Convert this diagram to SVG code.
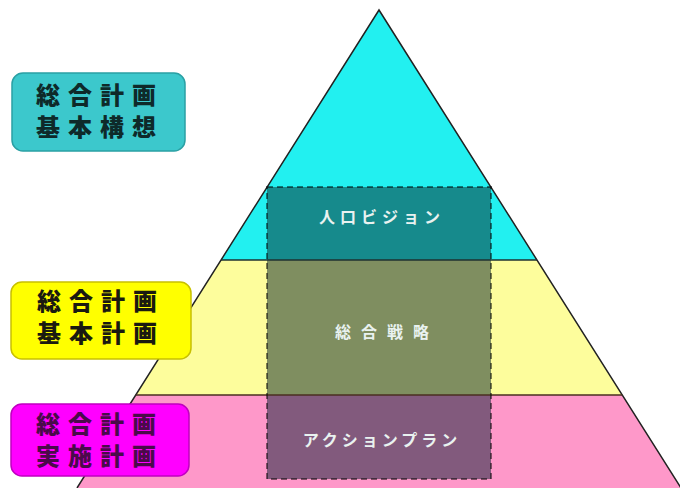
<svg xmlns="http://www.w3.org/2000/svg" width="680" height="488" viewBox="0 0 680 488">
<style>
.edge{stroke:#222;stroke-width:1.5;fill:none}
.tag{font-family:"Noto Sans CJK JP","Noto Sans CJK SC",sans-serif;font-weight:900;font-size:24px;letter-spacing:8px;text-anchor:middle}
.in{font-family:"Noto Sans CJK JP","Noto Sans CJK SC",sans-serif;font-weight:bold;font-size:16px;fill:#e9f2f0;text-anchor:middle}
.box{stroke-width:1.5}
</style>
<rect width="680" height="488" fill="#ffffff"/>
<g id="tier-top">
<polygon points="379,10 221,260 537,260" fill="#22f0f0"/>
</g>
<g id="tier-middle">
<polygon points="221,260 537,260 622.3,395 135.7,395" fill="#fdfd9c"/>
</g>
<g id="tier-bottom">
<polygon points="135.7,395 622.3,395 681,488 77,488" fill="#fe98c9"/>
</g>
<g id="core">
<rect x="267" y="187" width="224" height="73" fill="#168a8c"/>
<rect x="267" y="260" width="224" height="135" fill="#7f8e60"/>
<rect x="267" y="395" width="224" height="84" fill="#825a7d"/>
</g>
<g id="outline">
<polyline class="edge" points="77,488 379,10 681,488"/>
<line x1="221" y1="260" x2="537" y2="260" stroke="#1e3030" stroke-width="1.5"/>
<line x1="135.7" y1="395" x2="622.3" y2="395" stroke="#4a2e20" stroke-width="1.5"/>
<rect x="267" y="187" width="224" height="292" fill="none" stroke="#000" stroke-opacity="0.5" stroke-width="2" stroke-dasharray="6 4"/>
</g>
<g id="label-vision">
<text class="in" x="382" y="223" style="letter-spacing:5px">人口ビジョン</text>
</g>
<g id="label-strategy">
<text class="in" x="387" y="338" style="letter-spacing:10px">総合戦略</text>
</g>
<g id="label-action">
<text class="in" x="382" y="446" style="letter-spacing:4px">アクションプラン</text>
</g>
<g id="node-kihon-koso">
<rect class="box" x="12" y="73" width="173" height="78" rx="11" fill="#3cc8cc" stroke="#2aa0a4"/>
<text class="tag" x="100" y="104" fill="#0e2a2a">総合計画</text>
<text class="tag" x="100" y="136" fill="#0e2a2a">基本構想</text>
</g>
<g id="node-kihon-keikaku">
<rect class="box" x="11" y="282" width="180" height="77" rx="11" fill="#ffff00" stroke="#c8c000"/>
<text class="tag" x="101" y="310" fill="#1a1a10">総合計画</text>
<text class="tag" x="101" y="342" fill="#1a1a10">基本計画</text>
</g>
<g id="node-jisshi-keikaku">
<rect class="box" x="11" y="404" width="178" height="72" rx="11" fill="#ff00ff" stroke="#c000c0"/>
<text class="tag" x="100" y="433" fill="#4a0a4a">総合計画</text>
<text class="tag" x="100" y="465" fill="#4a0a4a">実施計画</text>
</g>
</svg>
